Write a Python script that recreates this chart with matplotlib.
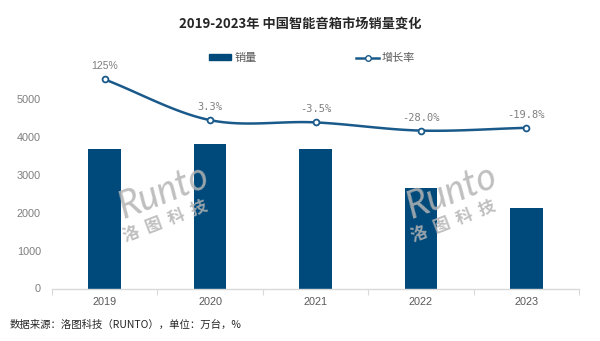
import numpy as np
import matplotlib
matplotlib.use("Agg")
import matplotlib.pyplot as plt
from matplotlib.lines import Line2D
from matplotlib.patches import Patch

plt.rcParams['font.family'] = ['Noto Sans CJK SC', 'DejaVu Sans']

years = ["2019", "2020", "2021", "2022", "2023"]
sales = [3683, 3808, 3676, 2646, 2122]          # 万台
growth = [125.0, 3.3, -3.5, -28.0, -19.8]       # %
growth_labels = ["125%", "3.3%", "-3.5%", "-28.0%", "-19.8%"]

BAR_COLOR = "#004a7b"
LINE_COLOR = "#1a5a8a"
GREY = "#7f7f7f"
MARK = "#b4b4b4"

fig = plt.figure(figsize=(6.0, 3.41), dpi=100)
ax = fig.add_axes([52 / 600, 52.5 / 341, 527 / 600, 227.5 / 341])
x = np.arange(len(years))

ax.bar(x, sales, width=0.31, color=BAR_COLOR, zorder=2)
ax.set_xlim(-0.5, len(years) - 0.5)
ax.set_ylim(0, 6000)
ax.set_yticks([0, 1000, 2000, 3000, 4000, 5000])
ax.set_xticks(x)
ax.set_xticklabels(years)
ax.set_xticks(np.arange(-0.5, len(years)), minor=True)
ax.tick_params(axis='y', length=0, labelsize=7.8, labelcolor=GREY, pad=8)
ax.tick_params(axis='x', which='major', length=0, labelsize=7.8, labelcolor="#595959", pad=6)
ax.tick_params(axis='x', which='minor', length=4, color="#d9d9d9", width=0.8)
for s in ("left", "right", "top"):
    ax.spines[s].set_visible(False)
ax.spines["bottom"].set_color("#d9d9d9")
ax.spines["bottom"].set_linewidth(1.0)
for lab in ax.get_yticklabels() + ax.get_xticklabels():
    lab.set_family(["Liberation Sans", "DejaVu Sans"])

# growth rate on a hidden secondary axis, drawn as a smoothed line
ax2 = ax.twinx()
ax2.set_ylim(-500, 180)
ax2.axis("off")


def catmull_rom(xs, ys, n=30):
    px = np.concatenate([[2 * xs[0] - xs[1]], xs, [2 * xs[-1] - xs[-2]]])
    py = np.concatenate([[2 * ys[0] - ys[1]], ys, [2 * ys[-1] - ys[-2]]])
    out_x, out_y = [], []
    t = np.linspace(0, 1, n)
    for i in range(1, len(px) - 2):
        p0, p1, p2, p3 = py[i - 1], py[i], py[i + 1], py[i + 2]
        q0, q1, q2, q3 = px[i - 1], px[i], px[i + 1], px[i + 2]
        f = lambda a, b, c, d: 0.5 * ((2 * b) + (-a + c) * t + (2 * a - 5 * b + 4 * c - d) * t ** 2
                                      + (-a + 3 * b - 3 * c + d) * t ** 3)
        out_x.append(f(q0, q1, q2, q3))
        out_y.append(f(p0, p1, p2, p3))
    return np.concatenate(out_x), np.concatenate(out_y)


sx, sy = catmull_rom(x.astype(float), np.array(growth, dtype=float))
ax2.plot(sx, sy, color=LINE_COLOR, lw=1.8, zorder=3)
ax2.plot(x, growth, ls="none", marker="o", ms=4.2, mfc="white", mec=LINE_COLOR, mew=1.3, zorder=4)
for xi, g, lab in zip(x, growth, growth_labels):
    fam = ["Liberation Sans"] if lab == "125%" else ["DejaVu Sans Mono"]
    ax2.annotate(lab, (xi, g), xytext=(0, 13), textcoords="offset pixels",
                 ha="center", va="center", fontsize=7.5, color=GREY, family=fam)

# watermark
for cx in (0, 288):
    fig.text((163 + cx) / 600, 1 - 192 / 341, "Runto", fontsize=27, style="italic", weight="normal",
             family=["Lato", "DejaVu Sans"], color=MARK, alpha=0.85, rotation=21,
             ha="center", va="center", zorder=5)
    fig.text((165 + cx) / 600, 1 - 221 / 341, "洛  图  科  技", fontsize=12, weight="bold",
             color=MARK, alpha=0.85, rotation=21, ha="center", va="center", zorder=5)

fig.text(0.5, 1 - 24 / 341, "2019-2023年 中国智能音箱市场销量变化", ha="center", va="center",
         fontsize=9.5, weight="bold", color="#262626")

handles = [Patch(color=BAR_COLOR, label="销量"),
           Line2D([], [], color=LINE_COLOR, lw=1.8, marker="o", ms=4, mfc="white", mec=LINE_COLOR,
                  label="增长率")]
fig.legend(handles=handles, loc="center", bbox_to_anchor=(312 / 600, 1 - 58 / 341), ncol=2,
           frameon=False, fontsize=8, handlelength=2.0, handleheight=0.5, columnspacing=9,
           handletextpad=0.3, labelcolor="#595959")

fig.text(10 / 600, 1 - 325 / 341, "数据来源：洛图科技（RUNTO），单位：万台，%", ha="left", va="center",
         fontsize=7.5, color="#262626")

fig.savefig("out.png", dpi=100, facecolor="white")
